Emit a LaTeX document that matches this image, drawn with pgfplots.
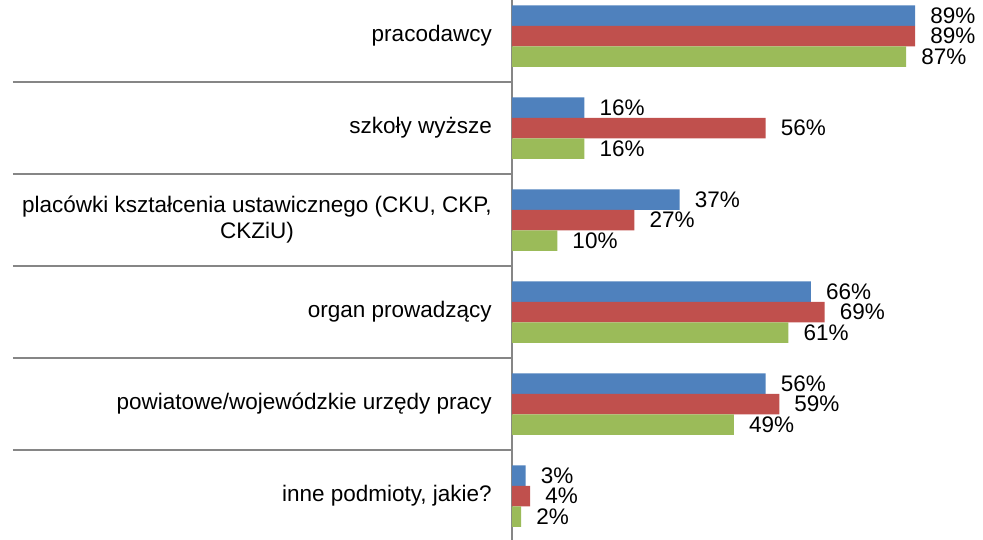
\documentclass[border=0pt]{standalone}
\usepackage{fontspec}
\setmainfont{Liberation Sans}
\usepackage{pgfplots}
\pgfplotsset{compat=1.18}
\definecolor{sBlue}{RGB}{79,129,189}
\definecolor{sRed}{RGB}{192,80,77}
\definecolor{sGreen}{RGB}{155,187,89}
\definecolor{axGray}{RGB}{134,134,134}
\begin{document}
\begin{tikzpicture}
\begin{axis}[
  at={(512pt,-542pt)}, anchor=south west,
  scale only axis, width=453pt, height=552pt,
  xmin=0, xmax=100, ymin=-0.5, ymax=5.5,
  axis x line=none, axis y line*=left,
  axis line style={axGray, line width=1.5pt},
  xbar, bar width=20.5pt,
  clip=false,
  ytick={0,1,2,3,4,5},
  yticklabels={{inne podmioty, jakie?},{powiatowe/wojewódzkie urzędy pracy},{organ prowadzący},{placówki kształcenia ustawicznego (CKU, CKP,\\CKZiU)},{szkoły wyższe},{pracodawcy}},
  yticklabel style={font=\fontsize{22.5}{26}\selectfont, align=center, inner sep=0pt, xshift=-20pt},
  major tick length=0pt,
  extra y ticks={0.5,1.5,2.5,3.5,4.5},
  extra y tick labels={},
  extra y tick style={major tick length=499pt, tick align=outside, tick style={axGray, line width=1.5pt}},
  /pgf/number format/assume math mode=true,
  nodes near coords={\pgfmathprintnumber{\pgfplotspointmeta}\%},
  every node near coord/.append style={font=\fontsize{22.5}{26}\selectfont, anchor=west, inner sep=0pt, xshift=15pt, text=black},
]
\addplot[fill=sBlue, draw=none, bar shift=20.5pt] coordinates {(89,5) (16,4) (37,3) (66,2) (56,1) (3,0)};
\addplot[fill=sRed, draw=none, bar shift=0pt] coordinates {(89,5) (56,4) (27,3) (69,2) (59,1) (4,0)};
\addplot[fill=sGreen, draw=none, bar shift=-20.5pt] coordinates {(87,5) (16,4) (10,3) (61,2) (49,1) (2,0)};
\end{axis}
\pgfresetboundingbox
\path[use as bounding box] (0,0) rectangle (983pt,-539pt);
\end{tikzpicture}
\end{document}
